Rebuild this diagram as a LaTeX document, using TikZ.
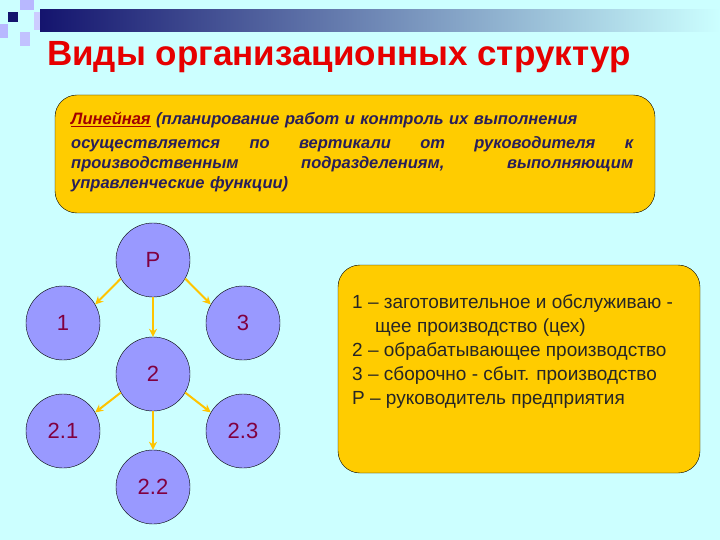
\documentclass[tikz,border=0pt]{standalone}
\usepackage{fontspec}
\setmainfont{Liberation Sans}
\usetikzlibrary{arrows.meta}
\definecolor{bg}{RGB}{204,255,255}
\definecolor{yel}{RGB}{255,204,0}
\definecolor{circ}{RGB}{153,153,255}
\definecolor{navy}{RGB}{20,20,110}
\definecolor{dtext}{RGB}{40,30,90}
\definecolor{ttl}{RGB}{230,0,0}
\definecolor{num}{RGB}{128,0,64}
\begin{document}
\begin{tikzpicture}[x=1pt,y=-1pt,
  org/.style={circle,draw=black,fill=circ,minimum size=74pt,inner sep=0pt,font=\fontsize{22}{22}\selectfont,text=num},
  arr/.style={draw=yel!90!orange,line width=2pt,-{Stealth[length=8pt,width=8pt]}},
  box/.style={draw=black,fill=yel,rounded corners=22pt}]
\useasboundingbox (0,0) rectangle (720,540);
\fill[bg] (0,0) rectangle (720,540);
% banner
\shade[left color=navy,right color=bg] (40,10) rectangle (720,32);
\fill[navy] (8,12) rectangle (18,22);
\fill[circ!70!white] (20,0) rectangle (34,10);
\fill[circ!70!white] (0,24) rectangle (8,38);
\fill[circ!60!white] (20,32) rectangle (30,46);
\fill[circ!50!white] (34,12) rectangle (40,30);
\node[anchor=base west,text=ttl,font=\bfseries\fontsize{35}{35}\selectfont,inner sep=0pt] (title) at (47,66) {Виды организационных структур};
% top box
\node[box,minimum width=600pt,minimum height=118pt] (tb) at (355,154) {};
\node[anchor=north west,text width=562pt,align=left,text=dtext,font=\bfseries\itshape\fontsize{16.5}{24}\selectfont,inner sep=0pt] (tbt) at (71,112)
{\textcolor{ttl!70!black}{\underline{Линейная}} (планирование работ и контроль их выполнения\\
осуществляется\hfill по\hfill вертикали\hfill от\hfill руководителя\hfill к\\[-4pt]
производственным\hfill подразделениям,\hfill выполняющим\\[-4pt]
управленческие функции)};
% right box
\node[box,minimum width=362pt,minimum height=208pt] (rb) at (519,369) {};
\node[anchor=north west,align=left,text=black!85,font=\fontsize{19}{24}\selectfont,inner sep=0pt] (rbt) at (352,294)
{1 – заготовительное и обслуживаю -\\
\hspace*{23pt}щее производство (цех)\\
2 – обрабатывающее производство\\
3 – сборочно - сбыт. производство\\
Р – руководитель предприятия};
% circles
\node[org] (P) at (153,260) {Р};
\node[org] (n1) at (63,323) {1};
\node[org] (n3) at (243,323) {3};
\node[org] (n2) at (153,374) {2};
\node[org] (n21) at (63,431) {2.1};
\node[org] (n23) at (243,431) {2.3};
\node[org] (n22) at (153,487) {2.2};
\draw[arr] (P.-150) -- (n1.30);
\draw[arr] (P.-30) -- (n3.150);
\draw[arr] (P.south) -- (n2.north);
\draw[arr] (n2.-150) -- (n21.30);
\draw[arr] (n2.-30) -- (n23.150);
\draw[arr] (n2.south) -- (n22.north);
\end{tikzpicture}
\end{document}
